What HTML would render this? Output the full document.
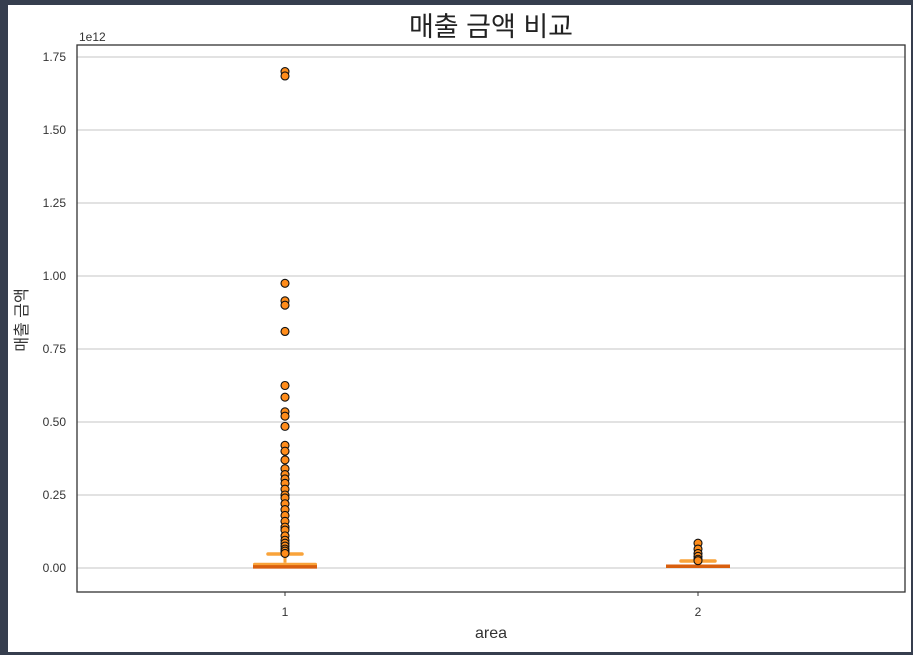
<!DOCTYPE html>
<html><head><meta charset="utf-8"><style>
body{margin:0;width:913px;height:655px;background:#363e4e;overflow:hidden}
#wrap{position:absolute;left:8px;top:5px;width:903px;height:647px;background:#fff}
text{font-family:"Liberation Sans","Noto Sans CJK KR",sans-serif}
</style></head><body>
<div id="wrap"></div>
<svg id="chart" width="913" height="655" style="position:absolute;left:0;top:0"></svg>
<script>
const categories=["1","2"];
const q1=[0.0,0.002];
const medians=[0.004,0.006];
const q3=[0.018,0.012];
const whiskLo=[0.0,0.0];
const whiskHi=[0.048,0.024];
const outliers1=[1.70,1.685,0.975,0.915,0.90,0.81,0.625,0.585,0.535,0.52,0.485,0.42,0.40,0.37,0.34,0.32,0.305,0.29,0.27,0.25,0.24,0.22,0.20,0.18,0.16,0.14,0.13,0.11,0.095,0.085,0.075,0.065,0.058,0.05];
const outliers2=[0.085,0.065,0.05,0.04,0.03,0.025];
const outliers=[outliers1,outliers2];
const yTicks=[0,0.25,0.5,0.75,1.0,1.25,1.5,1.75];
const yTickLabels=["0.00","0.25","0.50","0.75","1.00","1.25","1.50","1.75"];

const NS="http://www.w3.org/2000/svg";
const svg=document.getElementById('chart');
const L=77,R=905,T=45,B=592;
const y=v=>568-v*(511/1.75);
const x=i=>[285,698][i];
function mk(tag,attrs,parent){const e=document.createElementNS(NS,tag);for(const k in attrs)e.setAttribute(k,attrs[k]);(parent||svg).appendChild(e);return e;}

yTicks.forEach((t,i)=>{
  const g=mk('line',{x1:L,x2:R,y1:y(t),y2:y(t),stroke:'#d0d0d0','stroke-width':1.2});
  
  
  const tx=mk('text',{x:L-11,y:y(t)+4,'text-anchor':'end','font-size':12,fill:'#333'});
  tx.textContent=yTickLabels[i];
  
  
});
const ex=mk('text',{x:L+2,y:41,'font-size':12,fill:'#333'});ex.textContent='1e12';



categories.forEach((c,i)=>{
  const cx=x(i);
  const w1=mk('line',{x1:cx,x2:cx,y1:y(q3[i]),y2:y(whiskHi[i]),stroke:'#f9a33a','stroke-width':3});
  
  
  const cap=mk('line',{x1:cx-17,x2:cx+17,y1:y(whiskHi[i]),y2:y(whiskHi[i]),stroke:'#f9a33a','stroke-width':3.5,'stroke-linecap':'round'});
  
  
  const bx=mk('rect',{x:cx-32,y:y(q3[i]),width:64,height:Math.max(3,y(q1[i])-y(q3[i])),fill:'#f9a33a',rx:1.5});
  
  
  const md=mk('line',{x1:cx-32,x2:cx+32,y1:y(medians[i]),y2:y(medians[i]),stroke:'#d95f0e','stroke-width':3.5});
  
  
  outliers[i].forEach(v=>{
    const o=mk('circle',{cx:cx,cy:y(v),r:4,fill:'#ff8c1a',stroke:'#111','stroke-width':1.1});
    
    
  });
  const tl=mk('line',{x1:cx,x2:cx,y1:B,y2:B+4,stroke:'#333'});
  const tx=mk('text',{x:cx,y:B+24,'text-anchor':'middle','font-size':12,fill:'#333'});tx.textContent=c;
  
  
});

const fr=mk('rect',{x:L,y:T,width:R-L,height:B-T,fill:'none',stroke:'#333','stroke-width':1.3});


const title=mk('text',{x:491,y:36,'text-anchor':'middle','font-size':27,fill:'#222'});title.textContent='매출 금액 비교';


const xl=mk('text',{x:491,y:638,'text-anchor':'middle','font-size':16,fill:'#333'});xl.textContent='area';


const yl=mk('text',{x:0,y:0,'text-anchor':'middle','font-size':16,fill:'#333',transform:'translate(27,320) rotate(-90)'});yl.textContent='매출 금액';


</script>
</body></html>
